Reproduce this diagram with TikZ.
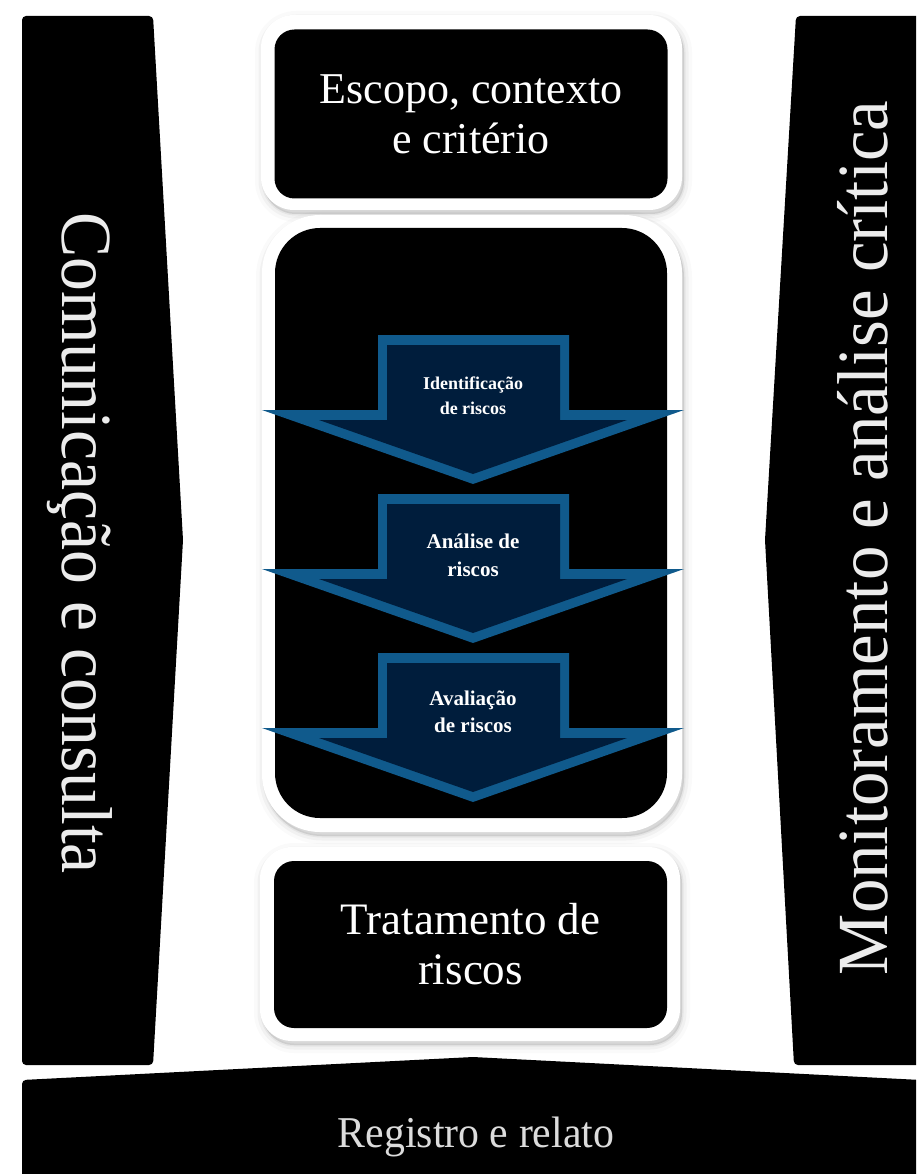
\documentclass[tikz,border=0pt]{standalone}
\usepackage{fontspec}
\usepackage{graphicx}
\setmainfont{Liberation Serif}
\usetikzlibrary{shadows}
\definecolor{arrowfill}{RGB}{0,29,60}
\definecolor{arrowedge}{RGB}{16,90,140}
\definecolor{sidetext}{RGB}{236,236,236}
\definecolor{regtext}{RGB}{220,220,220}
\begin{document}
\begin{tikzpicture}[x=1pt,y=-1pt,
  barshape/.style={fill=black, rounded corners=4pt},
  softshadow/.style={
    general shadow={shadow xshift=2pt, shadow yshift=-4pt, fill=black, draw=black, opacity=0.02, line width=16pt},
    general shadow={shadow xshift=2pt, shadow yshift=-4pt, fill=black, draw=black, opacity=0.035, line width=9pt},
    general shadow={shadow xshift=2pt, shadow yshift=-4pt, fill=black, draw=black, opacity=0.05, line width=3pt}},
  boxouter/.style={fill=white, rounded corners=#1, inner sep=0pt, softshadow},
  boxinner/.style={fill=black, rounded corners=#1, inner sep=0pt, text=white, align=center},
  arrowtext/.style={text=white, align=center, inner sep=0pt, font=\bfseries},
  sidelabel/.style={text=sidetext, anchor=base, inner sep=0pt, font=\fontsize{72}{80}\selectfont}]
\useasboundingbox (0,0) rectangle (916,1174);
\clip (0,0) rectangle (916,1174);

% side bars and bottom bar
\fill[barshape] (22,16) -- (153,16) -- (183,540) -- (153,1065) -- (22,1065) -- cycle;
\fill[barshape] (796,16) -- (960,16) -- (960,1065) -- (794,1065) -- (765,540) -- cycle;
\fill[barshape] (22,1080) -- (473,1057) -- (960,1082) -- (960,1220) -- (22,1220) -- cycle;

% boxes
\node[boxouter=33pt, minimum width=421pt, minimum height=195pt] (topOut) at (471.5,112.5) {};
\node[boxinner=20pt, minimum width=393pt, minimum height=169pt, font=\fontsize{44}{50}\selectfont] (topIn) at (471,114) {Escopo, contexto\\e critério};

\node[boxouter=58pt, minimum width=420pt, minimum height=617pt] (midOut) at (472,523.5) {};
\node[boxinner=45pt, minimum width=392pt, minimum height=590pt] (midIn) at (471,523) {};

\node[boxouter=32pt, minimum width=420pt, minimum height=194pt] (tratOut) at (470,944) {};
\node[boxinner=20pt, minimum width=393pt, minimum height=167pt, font=\fontsize{45}{50}\selectfont] (tratIn) at (470.5,944.5) {Tratamento de\\riscos};

% process arrows
\foreach \dy in {0,159,318} {
  \begin{scope}[shift={(0,\dy)}]
    \fill[arrowedge] (378,335) -- (569,335) -- (569,410) -- (684,410) -- (473,484) -- (262,410) -- (378,410) -- cycle;
    \fill[arrowfill] (387,345) -- (560,345) -- (560,420) -- (627,420) -- (473,474) -- (319,420) -- (387,420) -- cycle;
  \end{scope}
}
\node[arrowtext, font=\bfseries\fontsize{18}{25}\selectfont] (ident) at (473,396) {Identificação\\de riscos};
\node[arrowtext, font=\bfseries\fontsize{21}{28}\selectfont] (anal) at (473,555) {Análise de\\riscos};
\node[arrowtext, font=\bfseries\fontsize{21}{27}\selectfont] (aval) at (473,712) {Avaliação\\de riscos};

% side labels
\node[sidelabel, rotate=-90] (comm) at (62,543) {\scalebox{0.94}[1]{Comunicação e consulta}};
\node[sidelabel, rotate=90] (moni) at (887,538) {\scalebox{0.957}[1]{Monitoramento e análise crítica}};
\node[text=regtext, anchor=base, inner sep=0pt, font=\fontsize{44}{50}\selectfont] (reg) at (476,1147) {\scalebox{0.95}[1]{Registro e relato}};
\end{tikzpicture}
\end{document}
